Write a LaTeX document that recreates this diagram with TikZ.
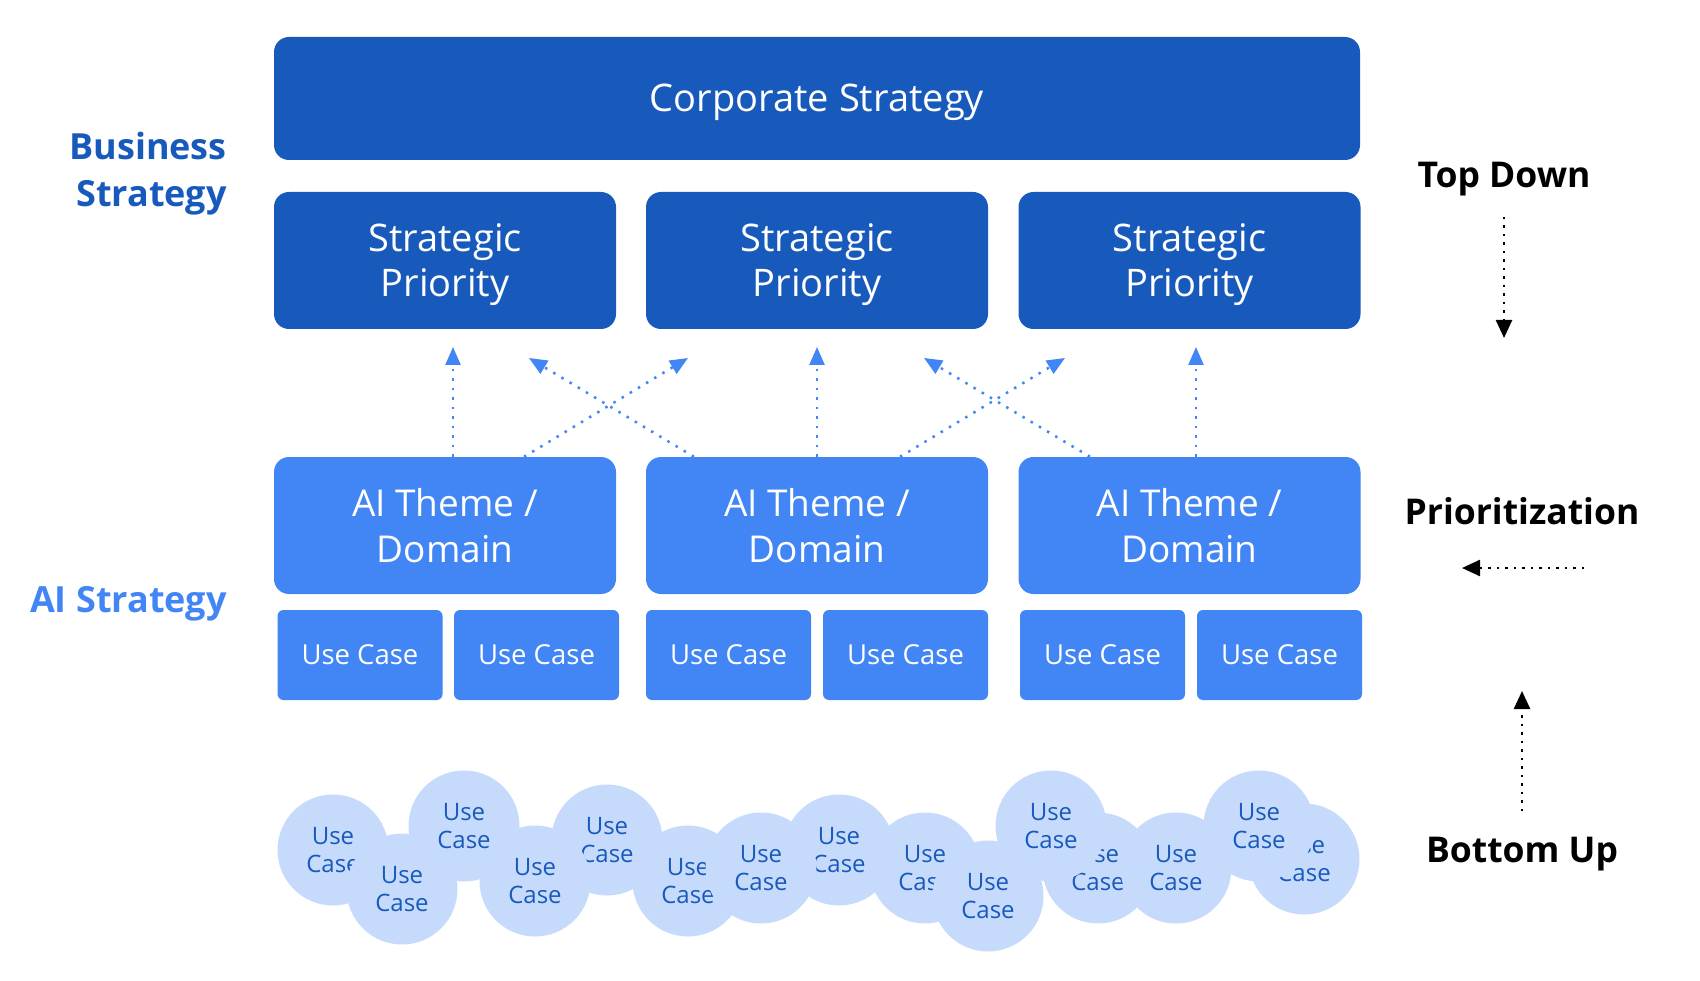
\documentclass[tikz,border=0pt]{standalone}
\usepackage{fontspec}
\setmainfont{Open Sans}
\usetikzlibrary{arrows.meta}
\definecolor{dblue}{HTML}{185ABC}
\definecolor{mblue}{HTML}{4285F4}
\definecolor{lblue}{HTML}{C6DAFC}
\newcommand{\tallstrut}{\rule{0pt}{0.95em}}
\begin{document}
\begin{tikzpicture}[x=1pt,y=-1pt,
  box/.style={rectangle, rounded corners=15pt, draw=none, text=white, align=center, inner sep=0pt},
  corp/.style={box, fill=dblue, minimum width=1086pt, minimum height=123pt, font=\fontsize{38}{45}\selectfont},
  prio/.style={box, fill=dblue, minimum width=342pt, minimum height=137pt, font=\fontsize{38}{45.5}\selectfont},
  theme/.style={box, fill=mblue, minimum width=342pt, minimum height=137pt, font=\fontsize{37}{45.5}\selectfont},
  uc/.style={box, fill=mblue, rounded corners=6pt, minimum width=165pt, minimum height=90pt, font=\fontsize{27.5}{30}\selectfont},
  bub/.style={circle, fill=lblue, minimum size=111pt, inner sep=0pt, text=dblue, align=center, font=\fontsize{24}{27.5}\selectfont},
  upar/.style={draw=mblue, line width=2.5pt, dash pattern=on 2.5pt off 7pt, -{Triangle[length=18pt,width=15pt]}},
  blkar/.style={draw=black, line width=2.5pt, dash pattern=on 2.5pt off 6pt, -{Triangle[length=18pt,width=16pt]}},
  side/.style={font=\fontsize{35.5}{40}\selectfont\bfseries, text=black, inner sep=0pt},
  lab/.style={font=\fontsize{36}{47}\selectfont\bfseries, align=right, anchor=east, inner sep=0pt}
]
\useasboundingbox (0,0) rectangle (1700,981);

% top boxes
\node[corp] (corp) at (817,98.5) {\tallstrut Corporate Strategy};
\node[prio] (p1) at (445,260.5) {\tallstrut Strategic\\Priority};
\node[prio] (p2) at (817,260.5) {\tallstrut Strategic\\Priority};
\node[prio] (p3) at (1189.5,260.5) {\tallstrut Strategic\\Priority};

\node[theme] (a1) at (445,525.5) {AI Theme /\\Domain};
\node[theme] (a2) at (817,525.5) {AI Theme /\\Domain};
\node[theme] (a3) at (1189.5,525.5) {AI Theme /\\Domain};

\node[uc] (u1) at (360,655) {Use Case};
\node[uc] (u2) at (536.5,655) {Use Case};
\node[uc] (u3) at (728.5,655) {Use Case};
\node[uc] (u4) at (905.5,655) {Use Case};
\node[uc] (u5) at (1102.5,655) {Use Case};
\node[uc] (u6) at (1279.5,655) {Use Case};

% arrow targets
\coordinate (t1) at (453,347);
\coordinate (t2) at (817,347);
\coordinate (t3) at (1196,347);
\coordinate (d1) at (688,358);
\coordinate (d2) at (529,358);
\coordinate (d3) at (1065,358);
\coordinate (d4) at (924,358);
\coordinate (s1) at (524,457);
\coordinate (s2) at (694,457);
\coordinate (s3) at (900,457);
\coordinate (s4) at (1090,457);

\draw[upar] (a1.north -| t1) -- (t1);
\draw[upar] (a2.north -| t2) -- (t2);
\draw[upar] (a3.north -| t3) -- (t3);
\draw[upar] (a1.north -| s1) -- (d1);
\draw[upar] (a2.north -| s2) -- (d2);
\draw[upar] (a2.north -| s3) -- (d3);
\draw[upar] (a3.north -| s4) -- (d4);

% left labels
\node[lab, text=dblue] (bs) at (227,174) {Business\\Strategy};
\node[lab, text=mblue] (ais) at (227,604) {AI Strategy};

% right labels
\node[side] (td) at (1504,179) {Top Down};
\node[side] (pr) at (1522,511) {Prioritization};
\node[side] (bu) at (1522,854) {Bottom Up};
\coordinate (tds) at (1504,217);
\coordinate (tdend) at (1504,338);
\coordinate (prs) at (1584,568);
\coordinate (pre) at (1462,568);
\coordinate (bus) at (1522,811);
\coordinate (bue) at (1522,691);
\draw[blkar] (tds) -- (tdend);
\draw[blkar] (prs) -- (pre);
\draw[blkar] (bus) -- (bue);

% bubbles
\node[bub] (c1) at (333,850) {Use\\Case};
\node[bub] (c2) at (402,889) {Use\\Case};
\node[bub] (c3) at (464,826) {Use\\Case};
\node[bub] (c5) at (607,840) {Use\\Case};
\node[bub] (c4) at (535,881) {Use\\Case};
\node[bub] (c6) at (688,881) {Use\\Case};
\node[bub] (c8) at (839,850) {Use\\Case};
\node[bub] (c7) at (761,868) {Use\\Case};
\node[bub] (c9) at (925,868) {Use\\Case};
\node[bub] (c10) at (988,896) {Use\\Case};
\node[bub] (c12) at (1098,868) {Use\\Case};
\node[bub] (c11) at (1051,826) {Use\\Case};
\node[bub] (c13) at (1176,868) {Use\\Case};
\node[bub] (c15) at (1304,859) {Use\\Case};
\node[bub] (c14) at (1259,826) {Use\\Case};
\end{tikzpicture}
\end{document}
